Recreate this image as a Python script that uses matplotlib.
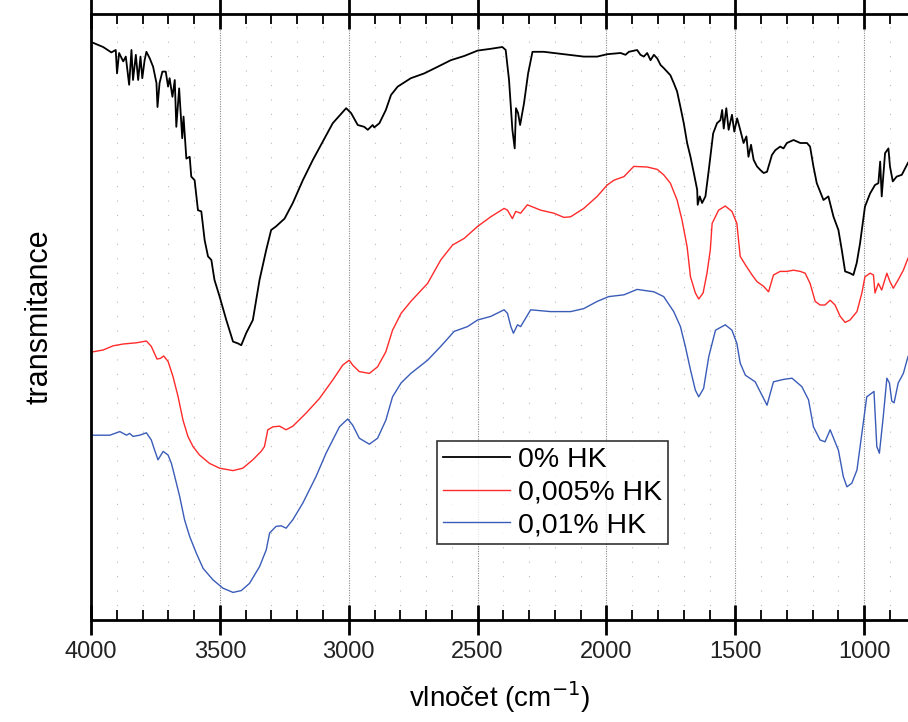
import matplotlib
matplotlib.use("Agg")
import matplotlib.pyplot as plt
from matplotlib.ticker import MultipleLocator, NullLocator

plt.rcParams['font.family'] = ['Liberation Sans', 'DejaVu Sans']

# ---- data (wavenumber in cm-1, transmittance in arbitrary units) ----
wn_0 = [3992, 3953, 3921, 3904, 3899, 3891, 3875, 3865, 3852, 3843, 3837, 3826, 3817, 3808,
        3801, 3792, 3785, 3772, 3759, 3746, 3742, 3734, 3723, 3710, 3701, 3695, 3684, 3675,
        3669, 3658, 3646, 3641, 3630, 3617, 3611, 3598, 3585, 3572, 3559, 3546, 3533, 3521,
        3501, 3475, 3449, 3430, 3417, 3398, 3372, 3346, 3320, 3301, 3282, 3249, 3217, 3178,
        3139, 3101, 3062, 3010, 2991, 2965, 2940, 2926, 2907, 2901, 2881, 2856, 2836, 2810,
        2759, 2707, 2655, 2604, 2552, 2500, 2449, 2404, 2391, 2378, 2365, 2356, 2351, 2343,
        2335, 2320, 2304, 2287, 2243, 2165, 2088, 2036, 1997, 1945, 1926, 1913, 1881, 1868,
        1855, 1842, 1829, 1816, 1803, 1790, 1778, 1765, 1752, 1739, 1726, 1713, 1700, 1687,
        1674, 1661, 1648, 1646, 1638, 1629, 1616, 1603, 1586, 1571, 1558, 1551, 1545, 1535,
        1526, 1513, 1504, 1493, 1481, 1468, 1457, 1449, 1439, 1429, 1416, 1403, 1390, 1377,
        1358, 1345, 1326, 1313, 1300, 1274, 1248, 1222, 1210, 1197, 1184, 1158, 1139, 1119,
        1100, 1087, 1074, 1055, 1042, 1029, 1016, 997, 977, 958, 945, 938, 932, 919,
        906, 900, 889, 874, 854, 835, 830]
tr_0 = [96.2, 95.5, 94.6, 95.0, 91.1, 94.5, 93.1, 93.9, 89.2, 95.0, 90.0, 94.2, 90.0, 93.9,
        90.3, 93.3, 94.7, 93.6, 92.2, 89.5, 85.5, 89.5, 91.4, 91.4, 88.9, 90.3, 87.2, 90.0,
        82.2, 88.6, 80.3, 83.9, 76.9, 77.2, 73.9, 73.3, 68.3, 68.1, 63.3, 60.6, 60.0, 56.7,
        53.9, 50.0, 46.4, 46.1, 45.8, 47.8, 50.0, 56.7, 61.7, 65.0, 65.6, 66.9, 69.5, 73.3,
        76.7, 79.7, 82.8, 85.3, 84.5, 82.5, 82.2, 81.7, 82.5, 82.1, 82.8, 85.0, 87.5, 88.9,
        90.3, 91.1, 92.2, 93.3, 94.0, 94.9, 95.2, 95.5, 95.0, 90.0, 81.7, 78.6, 85.3, 84.5,
        82.5, 86.1, 91.1, 94.7, 94.7, 94.3, 93.9, 93.9, 94.3, 94.5, 94.2, 94.7, 95.0, 94.2,
        93.9, 94.5, 93.3, 94.2, 93.6, 92.5, 92.0, 91.4, 90.8, 89.5, 88.1, 85.5, 82.8, 79.5,
        77.2, 74.5, 71.7, 69.2, 70.6, 69.5, 70.6, 75.0, 81.1, 82.8, 83.3, 85.0, 81.9, 85.3,
        81.7, 84.2, 81.4, 83.6, 81.7, 79.5, 80.6, 77.2, 79.2, 76.7, 75.6, 75.0, 74.5, 74.7,
        77.5, 78.3, 78.9, 78.6, 79.5, 80.0, 79.5, 79.5, 78.9, 75.6, 72.8, 70.0, 70.6, 67.2,
        65.0, 61.7, 58.1, 57.8, 57.5, 59.5, 62.8, 68.9, 71.1, 72.5, 72.8, 76.4, 70.6, 77.8,
        78.6, 75.6, 73.1, 73.9, 74.2, 75.8, 76.2]

wn_005 = [3992, 3953, 3914, 3875, 3824, 3785, 3766, 3744, 3731, 3718, 3701, 3682, 3662, 3643,
          3624, 3604, 3579, 3540, 3501, 3449, 3411, 3372, 3340, 3327, 3314, 3294, 3268, 3243,
          3217, 3165, 3114, 3062, 3023, 2998, 2985, 2959, 2920, 2888, 2856, 2830, 2797, 2759,
          2694, 2643, 2597, 2552, 2500, 2449, 2397, 2384, 2365, 2352, 2333, 2307, 2255, 2204,
          2165, 2139, 2088, 2036, 1997, 1971, 1932, 1894, 1842, 1803, 1778, 1752, 1726, 1707,
          1687, 1674, 1655, 1642, 1625, 1610, 1597, 1590, 1565, 1539, 1513, 1494, 1481, 1461,
          1435, 1416, 1390, 1371, 1352, 1326, 1300, 1274, 1248, 1229, 1210, 1190, 1171, 1152,
          1132, 1113, 1093, 1074, 1055, 1028, 1009, 997, 977, 964, 958, 945, 932, 912,
          900, 887, 868, 848, 830]
tr_005 = [44.7, 45.0, 45.7, 46.0, 46.2, 46.5, 45.6, 43.5, 43.6, 44.0, 43.1, 40.6, 37.2, 33.3,
          30.6, 28.9, 27.5, 26.1, 25.3, 24.9, 25.3, 26.7, 28.1, 28.9, 31.7, 32.2, 32.3, 31.7,
          32.3, 34.5, 36.9, 40.0, 42.5, 43.3, 42.5, 41.4, 41.1, 42.2, 44.7, 48.3, 51.1, 53.1,
          56.1, 60.0, 62.5, 63.6, 65.6, 67.2, 68.6, 68.3, 66.9, 68.1, 67.8, 69.2, 68.3, 67.8,
          67.1, 67.2, 68.6, 70.6, 72.5, 73.3, 73.9, 75.6, 75.5, 75.1, 74.2, 72.8, 70.0, 66.7,
          62.2, 57.2, 54.5, 53.5, 54.5, 57.8, 61.7, 66.1, 68.3, 69.0, 68.1, 66.1, 60.6, 59.2,
          57.5, 56.4, 55.6, 54.7, 57.5, 58.1, 58.1, 58.3, 58.1, 57.8, 56.1, 53.1, 52.5, 52.5,
          53.3, 52.5, 50.6, 49.6, 50.0, 51.4, 54.5, 57.2, 57.8, 57.5, 54.5, 56.1, 55.0, 57.8,
          56.4, 55.3, 56.7, 58.3, 60.3]

wn_01 = [3992, 3927, 3888, 3862, 3850, 3837, 3811, 3785, 3766, 3753, 3740, 3720, 3701, 3688,
         3675, 3656, 3637, 3617, 3591, 3565, 3527, 3488, 3449, 3417, 3385, 3346, 3320, 3307,
         3282, 3262, 3243, 3217, 3178, 3127, 3088, 3036, 3004, 2985, 2959, 2920, 2888, 2856,
         2830, 2797, 2759, 2694, 2643, 2591, 2539, 2500, 2449, 2397, 2384, 2371, 2361, 2345,
         2333, 2294, 2217, 2139, 2088, 2036, 1991, 1932, 1881, 1816, 1778, 1739, 1713, 1694,
         1674, 1655, 1642, 1623, 1603, 1577, 1539, 1513, 1494, 1481, 1461, 1423, 1377, 1352,
         1313, 1280, 1242, 1216, 1197, 1171, 1152, 1132, 1100, 1081, 1067, 1048, 1028, 1009,
         990, 971, 962, 951, 941, 926, 912, 902, 893, 884, 868, 848, 830]
tr_01 = [30.8, 30.8, 31.4, 30.8, 31.1, 30.6, 30.8, 31.2, 30.0, 28.3, 26.7, 28.1, 27.5, 26.1,
         23.9, 20.6, 16.7, 13.9, 11.1, 8.6, 6.7, 5.3, 4.6, 4.9, 6.1, 8.9, 11.7, 14.5,
         15.6, 15.7, 15.3, 16.7, 19.5, 23.9, 27.8, 32.2, 33.5, 32.5, 30.3, 29.3, 30.3, 33.3,
         37.2, 39.5, 41.1, 43.3, 45.6, 48.1, 48.9, 50.0, 50.6, 51.7, 51.1, 48.9, 47.8, 49.2,
         48.9, 51.7, 51.4, 51.4, 51.9, 53.1, 53.9, 54.2, 55.1, 54.7, 53.9, 51.4, 48.9, 45.6,
         41.7, 38.3, 37.2, 38.6, 43.9, 48.3, 49.2, 48.3, 46.1, 42.8, 40.8, 39.7, 35.8, 39.7,
         40.1, 40.3, 38.9, 36.7, 32.2, 30.0, 29.7, 31.7, 28.3, 23.9, 22.2, 22.8, 25.0, 31.1,
         37.2, 37.8, 38.1, 28.9, 27.8, 33.9, 40.3, 39.5, 36.5, 36.2, 39.5, 41.1, 43.9]

labels = ["0% HK", "0,005% HK", "0,01% HK"]
colors = ["black", "#ff2a2a", "#3a5cb8"]

W, H = 908, 722
fig = plt.figure(figsize=(W / 100, H / 100), dpi=100)
ax = fig.add_axes([91 / W, 1 - 620 / H, 817 / W, 606 / H])

ax.plot(wn_0, tr_0, color=colors[0], lw=1.3, label=labels[0])
ax.plot(wn_005, tr_005, color=colors[1], lw=1.0, label=labels[1])
ax.plot(wn_01, tr_01, color=colors[2], lw=1.0, label=labels[2])

ax.set_xlim(4000, 830)
ax.set_ylim(0, 101)

ax.xaxis.set_major_locator(MultipleLocator(500))
ax.xaxis.set_minor_locator(MultipleLocator(100))
ax.yaxis.set_major_locator(NullLocator())
ax.yaxis.set_minor_locator(NullLocator())

ax.grid(which='major', axis='x', color='#888888', linestyle=(0, (1, 1.2)), lw=0.8)
ax.grid(which='minor', axis='x', color='#bbbbbb', linestyle=(0, (1, 12)), lw=0.8)

ax.tick_params(axis='x', which='major', direction='inout', length=22, width=2,
               top=True, bottom=True, labelsize=17, pad=4, labelcolor='#222222')
ax.tick_params(axis='x', which='minor', direction='in', length=7, width=1.3,
               top=True, bottom=True)

for s in ['top', 'bottom', 'left']:
    ax.spines[s].set_linewidth(2)
ax.spines['right'].set_visible(False)

ax.set_xlabel("vlnočet (cm$^{-1}$)", fontsize=20, labelpad=12)
ax.set_ylabel("transmitance", fontsize=22, labelpad=26)

leg = ax.legend(loc='upper left', bbox_to_anchor=((437 - 91) / 817, (620 - 441) / 606),
                borderaxespad=0, frameon=True, fancybox=False, fontsize=20.5,
                handlelength=2.35, handletextpad=0.3, borderpad=0.2, labelspacing=0.24)
leg.get_frame().set_edgecolor('black')
leg.get_frame().set_linewidth(1.2)

fig.savefig("out.png", dpi=100)
